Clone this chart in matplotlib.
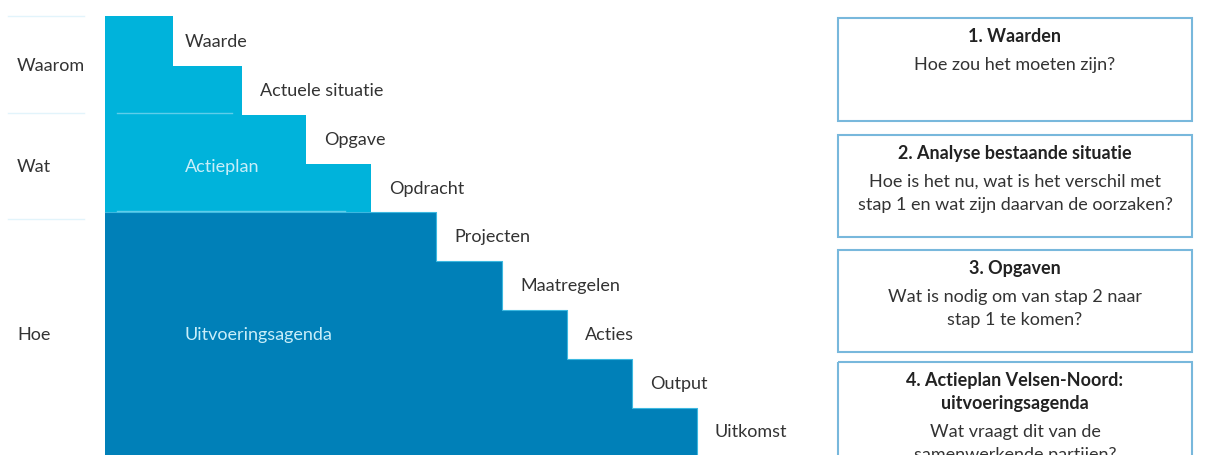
import matplotlib.pyplot as plt
from matplotlib.patches import Rectangle

# staircase: step edges (x) and levels (y), pixel units, top-down
step_x = [105, 173, 242, 306, 371, 436, 502, 567, 632, 697]
step_y = [17, 67, 116, 165, 213, 262, 311, 360, 409, 456]
step_labels = ['Waarde', 'Actuele situatie', 'Opgave', 'Opdracht', 'Projecten',
               'Maatregelen', 'Acties', 'Output', 'Uitkomst']
n_light = 4   # first four steps belong to the "Actieplan" block

side_labels = ['Waarom', 'Wat', 'Hoe']
side_y = [66, 167, 335]
side_lines = [17, 114, 220]

block_labels = ['Actieplan', 'Uitvoeringsagenda']
block_y = [167, 335]

box_titles = [['1. Waarden'], ['2. Analyse bestaande situatie'], ['3. Opgaven'],
              ['4. Actieplan Velsen-Noord:', 'uitvoeringsagenda']]
box_texts = [['Hoe zou het moeten zijn?'],
             ['Hoe is het nu, wat is het verschil met',
              'stap 1 en wat zijn daarvan de oorzaken?'],
             ['Wat is nodig om van stap 2 naar', 'stap 1 te komen?'],
             ['Wat vraagt dit van de', 'samenwerkende partijen?']]
box_top = [19, 136, 251, 363]
box_bot = [122, 238, 353, 470]

light = '#00b3db'
dark = '#0080b8'
font = 'Lato'
fs = 13

fig = plt.figure(figsize=(12.14, 4.56), dpi=100)
ax = fig.add_axes([0, 0, 1, 1])
ax.set_xlim(0, 1214)
ax.set_ylim(456, 0)
ax.axis('off')

def stair(i0, i1):
    xs = [step_x[0], step_x[0]]
    ys = [step_y[i1], step_y[i0]]
    for i in range(i0, i1):
        xs += [step_x[i + 1], step_x[i + 1]]
        ys += [step_y[i], step_y[i + 1]]
    return xs, ys

xs, ys = stair(0, n_light)
ax.fill(xs, ys, color=light, lw=0)
xs, ys = stair(n_light, len(step_labels))
ax.fill(xs, ys, color=dark, lw=0)
ax.plot(xs[1:], ys[1:], color='#3cb8e0', lw=0.8)

# thin inner lines in the light block
ax.plot([117, 232], [114, 114], color='#5fcdea', lw=1)
ax.plot([117, 345], [212, 212], color='#5fcdea', lw=1)

for i, lab in enumerate(step_labels):
    off = 12 if i == 0 else 18
    ax.text(step_x[i + 1] + off, (step_y[i] + step_y[i + 1]) / 2, lab,
            fontsize=fs, color='#333333', va='center', family=font)

for lab, y in zip(side_labels, side_y):
    ax.text(17, y, lab, fontsize=fs, color='#333333', va='center', family=font)
for y in side_lines:
    ax.plot([8, 84], [y, y], color='#e2f4fb', lw=1)

for lab, y in zip(block_labels, block_y):
    ax.text(185, y, lab, fontsize=fs, color='#c9eef9', va='center', family=font)

for t, body, y0, y1 in zip(box_titles, box_texts, box_top, box_bot):
    ax.add_patch(Rectangle((838, y0), 354, y1 - y0, fill=False,
                           edgecolor='#78b8dc', lw=1.5))
    y = y0 + 18
    for line in t:
        ax.text(1015, y, line, fontsize=fs, fontweight='bold', color='#222222',
                ha='center', va='center', family=font)
        y += 23
    y += 5
    for line in body:
        ax.text(1015, y, line, fontsize=fs, color='#333333',
                ha='center', va='center', family=font)
        y += 23

fig.savefig('out.png', dpi=100)
